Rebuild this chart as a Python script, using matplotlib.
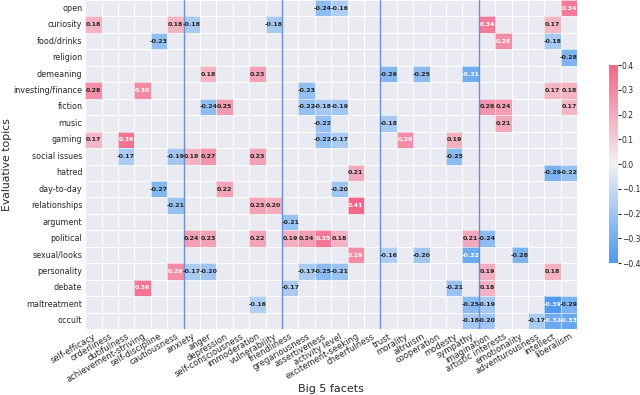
import numpy as np
import pandas as pd
import matplotlib
matplotlib.use("Agg")
import matplotlib.pyplot as plt
import seaborn as sns

topics = ["open", "curiosity", "food/drinks", "religion", "demeaning", "investing/finance",
          "fiction", "music", "gaming", "social issues", "hatred", "day-to-day",
          "relationships", "argument", "political", "sexual/looks", "personality",
          "debate", "maltreatment", "occult"]

facets = ["self-efficacy", "orderliness", "dutifulness", "achievement-striving",
          "self-discipline", "cautiousness", "anxiety", "anger", "depression",
          "self-consciousness", "immoderation", "vulnerability", "friendliness",
          "gregariousness", "assertiveness", "activity level", "excitement-seeking",
          "cheerfulness", "trust", "morality", "altruism", "cooperation", "modesty",
          "sympathy", "imagination", "artistic interests", "emotionality",
          "adventurousness", "intellect", "liberalism"]

cell_topic = (
    ["open"] * 3 + ["curiosity"] * 6 + ["food/drinks"] * 3 + ["religion"] +
    ["demeaning"] * 5 + ["investing/finance"] * 5 + ["fiction"] * 8 + ["music"] * 3 +
    ["gaming"] * 6 + ["social issues"] * 6 + ["hatred"] * 3 + ["day-to-day"] * 3 +
    ["relationships"] * 4 + ["argument"] + ["political"] * 9 + ["sexual/looks"] * 5 +
    ["personality"] * 8 + ["debate"] * 4 + ["maltreatment"] * 5 + ["occult"] * 5
)
cell_facet = [
    "assertiveness", "activity level", "liberalism",
    "self-efficacy", "cautiousness", "anxiety", "vulnerability", "imagination", "intellect",
    "self-discipline", "artistic interests", "intellect",
    "liberalism",
    "anger", "immoderation", "trust", "altruism", "sympathy",
    "self-efficacy", "achievement-striving", "gregariousness", "intellect", "liberalism",
    "anger", "depression", "gregariousness", "assertiveness", "activity level",
    "imagination", "artistic interests", "liberalism",
    "assertiveness", "trust", "artistic interests",
    "self-efficacy", "dutifulness", "assertiveness", "activity level", "morality", "modesty",
    "dutifulness", "cautiousness", "anxiety", "anger", "immoderation", "modesty",
    "excitement-seeking", "intellect", "liberalism",
    "self-discipline", "depression", "activity level",
    "cautiousness", "immoderation", "vulnerability", "excitement-seeking",
    "friendliness",
    "anxiety", "anger", "immoderation", "friendliness", "gregariousness", "assertiveness",
    "activity level", "sympathy", "imagination",
    "excitement-seeking", "trust", "altruism", "sympathy", "emotionality",
    "cautiousness", "anxiety", "anger", "gregariousness", "assertiveness", "activity level",
    "imagination", "intellect",
    "achievement-striving", "friendliness", "modesty", "imagination",
    "immoderation", "sympathy", "imagination", "intellect", "liberalism",
    "sympathy", "imagination", "adventurousness", "intellect", "liberalism",
]
cell_value = [
    -0.24, -0.16, 0.34,
    0.18, 0.18, -0.18, -0.18, 0.34, 0.17,
    -0.23, 0.29, -0.18,
    -0.28,
    0.18, 0.23, -0.26, -0.25, -0.31,
    0.28, 0.30, -0.23, 0.17, 0.18,
    -0.24, 0.25, -0.22, -0.18, -0.19, 0.26, 0.24, 0.17,
    -0.22, -0.18, 0.21,
    0.17, 0.36, -0.22, -0.17, 0.29, 0.19,
    -0.17, -0.19, 0.18, 0.27, 0.23, -0.25,
    0.21, -0.29, -0.22,
    -0.27, 0.22, -0.20,
    -0.21, 0.23, 0.20, 0.41,
    -0.21,
    0.24, 0.23, 0.22, 0.19, 0.24, 0.35, 0.18, 0.21, -0.24,
    0.29, -0.16, -0.20, -0.32, -0.28,
    0.29, -0.17, -0.20, -0.17, -0.25, -0.21, 0.19, 0.18,
    0.36, -0.17, -0.21, 0.18,
    -0.16, -0.25, -0.19, -0.39, -0.29,
    -0.18, -0.20, -0.17, -0.32, -0.33,
]

df = pd.DataFrame(np.nan, index=topics, columns=facets)
for t, f, v in zip(cell_topic, cell_facet, cell_value):
    df.loc[t, f] = v

sns.set_style("darkgrid")
plt.rcParams['font.family'] = ['DejaVu Sans']

fig = plt.figure(figsize=(6.4, 3.95), dpi=100)
ax = fig.add_axes([0.133, 0.167, 0.769, 0.833])
cax = fig.add_axes([0.951, 0.334, 0.014, 0.501])

cmap = sns.diverging_palette(250, 0, s=85, l=62, center="light", as_cmap=True)

sns.heatmap(df, ax=ax, cbar_ax=cax, cmap=cmap, vmin=-0.4, vmax=0.4, center=0,
            annot=True, fmt=".2f", annot_kws={"size": 4.5, "weight": "bold"},
            linewidths=0.6, linecolor=(1, 1, 1, 0.6))

ax.set_xticks(np.arange(len(facets)) + 0.5)
ax.set_xticklabels(facets, rotation=30, ha="right", rotation_mode="anchor", fontsize=6)
ax.set_yticks(np.arange(len(topics)) + 0.5)
ax.set_yticklabels(topics, rotation=0, fontsize=5.8)
ax.tick_params(axis="both", length=0, pad=2)

ax.set_xticks(np.arange(len(facets) + 1), minor=True)
ax.set_yticks(np.arange(len(topics) + 1), minor=True)
ax.grid(False, which="major")
ax.grid(True, which="minor", color="white", linewidth=0.8)
ax.set_axisbelow(True)
ax.tick_params(which="minor", length=0)

for x in [6, 12, 18, 24]:
    ax.axvline(x, color="#6a8fd3", linewidth=1.0)

ax.set_xlabel("Big 5 facets", fontsize=8, labelpad=0)
ax.set_ylabel("Evaluative topics", fontsize=7.8, labelpad=1)

cax.tick_params(labelsize=5.5, length=2, pad=1)
cax.set_yticks([-0.4, -0.3, -0.2, -0.1, 0.0, 0.1, 0.2, 0.3, 0.4])

fig.savefig("out.png", dpi=100)
